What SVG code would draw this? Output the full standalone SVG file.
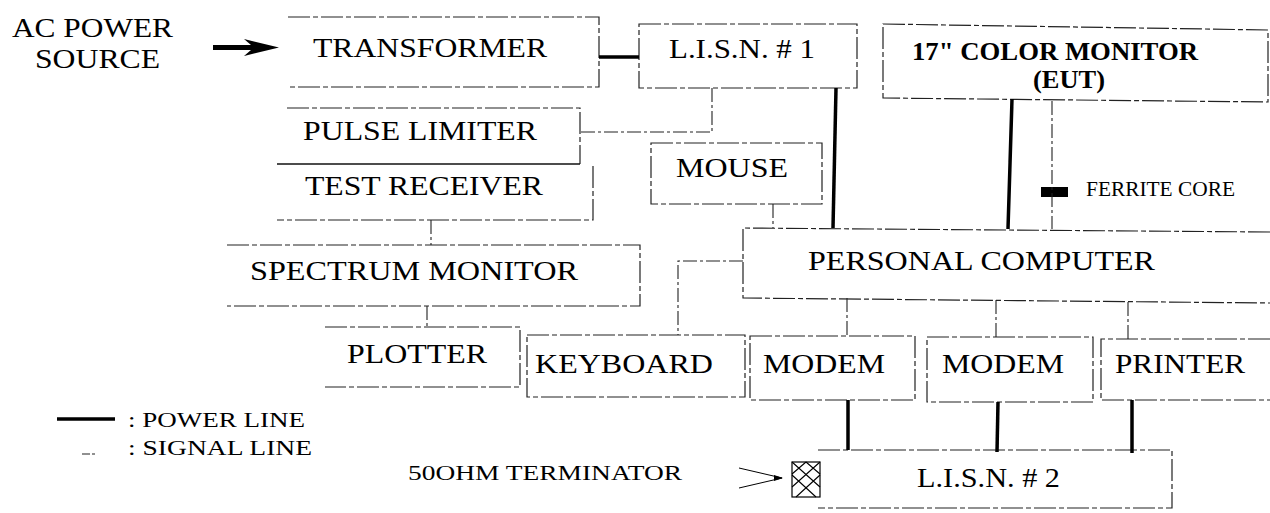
<svg xmlns="http://www.w3.org/2000/svg" width="1270" height="513" viewBox="0 0 1270 513">
<style>
.bx{fill:none;stroke:#222;stroke-width:1.2;stroke-dasharray:22 3 5 3}
.sg{fill:none;stroke:#222;stroke-width:1.1;stroke-dasharray:14 3 3 3}
.pw{fill:none;stroke:#000;stroke-width:3.5}
.t{font-family:"Liberation Serif","Times New Roman",serif;font-size:28px;fill:#000}
.tb{font-family:"Liberation Serif","Times New Roman",serif;font-size:25px;font-weight:bold;fill:#000}
.ts{font-family:"Liberation Serif","Times New Roman",serif;font-size:21px;fill:#000}
</style>
<rect width="1270" height="513" fill="#fff"/>

<g id="ac-source">
<text class="t" x="12" y="37" textLength="161" lengthAdjust="spacingAndGlyphs">AC POWER</text>
<text class="t" x="35" y="68" textLength="125" lengthAdjust="spacingAndGlyphs">SOURCE</text>
<path d="M213,45 L251,45 L244,39 L279,47.5 L244,56 L251,50 L213,50 Z" fill="#000"/>
</g>

<g id="transformer">
<path class="bx" d="M288,17 H599 V87 H288"/>
<text class="t" x="313" y="57" textLength="234" lengthAdjust="spacingAndGlyphs">TRANSFORMER</text>
</g>

<g id="lisn1">
<path class="bx" d="M639,24 H857 V88 H639 Z"/>
<text class="t" x="669" y="58" textLength="146" lengthAdjust="spacingAndGlyphs">L.I.S.N. # 1</text>
</g>

<g id="color-monitor">
<path class="bx" d="M883,24 L1268,30 V102 L883,98 Z"/>
<text class="tb" x="912" y="60" textLength="286" lengthAdjust="spacingAndGlyphs">17" COLOR MONITOR</text>
<text class="tb" x="1033" y="88" textLength="72" lengthAdjust="spacingAndGlyphs">(EUT)</text>
</g>

<g id="pulse-limiter">
<path class="bx" d="M287,108 H580 V164"/>
<path d="M277,164 H580" stroke="#111" stroke-width="1.4" fill="none"/>
<text class="t" x="303" y="140" textLength="234" lengthAdjust="spacingAndGlyphs">PULSE LIMITER</text>
</g>

<g id="test-receiver">
<path class="bx" d="M593,166 V220 H277"/>
<text class="t" x="305" y="195" textLength="238" lengthAdjust="spacingAndGlyphs">TEST RECEIVER</text>
</g>

<g id="mouse">
<path class="bx" d="M651,143 H822 V204 H651 Z"/>
<text class="t" x="676" y="177" textLength="112" lengthAdjust="spacingAndGlyphs">MOUSE</text>
</g>

<g id="ferrite-core">
<rect x="1041" y="187" width="27" height="10" fill="#000"/>
<text class="ts" x="1086" y="196" textLength="149" lengthAdjust="spacingAndGlyphs">FERRITE CORE</text>
</g>

<g id="spectrum-monitor">
<path class="bx" d="M227,245 H640 V306 H227"/>
<text class="t" x="250" y="280" textLength="328" lengthAdjust="spacingAndGlyphs">SPECTRUM MONITOR</text>
</g>

<g id="personal-computer">
<path class="bx" d="M1270,232 L743,228 V298 L1270,303"/>
<text class="t" x="808" y="270" textLength="347" lengthAdjust="spacingAndGlyphs">PERSONAL COMPUTER</text>
</g>

<g id="plotter">
<path class="bx" d="M325,327 H520 V387 H325"/>
<text class="t" x="347" y="363" textLength="140" lengthAdjust="spacingAndGlyphs">PLOTTER</text>
</g>

<g id="keyboard">
<path class="bx" d="M527,335 H745 V397 H527 Z"/>
<text class="t" x="535" y="373" textLength="178" lengthAdjust="spacingAndGlyphs">KEYBOARD</text>
</g>

<g id="modem1">
<path class="bx" d="M750,336 H915 V400 H750 Z"/>
<text class="t" x="763" y="373" textLength="122" lengthAdjust="spacingAndGlyphs">MODEM</text>
</g>

<g id="modem2">
<path class="bx" d="M927,337 H1093 V402 H927 Z"/>
<text class="t" x="942" y="373" textLength="122" lengthAdjust="spacingAndGlyphs">MODEM</text>
</g>

<g id="printer">
<path class="bx" d="M1270,339 H1101 V400 H1270"/>
<text class="t" x="1115" y="373" textLength="130" lengthAdjust="spacingAndGlyphs">PRINTER</text>
</g>

<g id="lisn2">
<path class="bx" d="M818,450 H1172 V508 H818" stroke-dasharray="10 12 4 8"/>
<text class="t" x="917" y="487" textLength="143" lengthAdjust="spacingAndGlyphs">L.I.S.N. # 2</text>
</g>

<g id="terminator">
<text class="ts" x="408" y="480" textLength="274" lengthAdjust="spacingAndGlyphs">50OHM TERMINATOR</text>
<path d="M739,468 L782,478 L739,488" fill="none" stroke="#000" stroke-width="1"/>
<path d="M774,475 L783,478 L774,481 Z" fill="#000"/>
<rect x="792" y="462" width="28" height="35" fill="none" stroke="#000" stroke-width="1.2"/>
<path d="M792,462 L820,487 M792,475 L816,497 M806,462 L820,474 M820,462 L792,487 M820,475 L796,497 M806,462 L792,474" stroke="#000" stroke-width="1.1" fill="none"/>
</g>

<g id="legend">
<line x1="57" y1="419" x2="115" y2="419" stroke="#000" stroke-width="3.5"/>
<text class="ts" x="128" y="427" textLength="177" lengthAdjust="spacingAndGlyphs">: POWER LINE</text>
<line x1="82" y1="454" x2="97" y2="454" stroke="#222" stroke-width="1.1" stroke-dasharray="8 2 3 2"/>
<text class="ts" x="128" y="455" textLength="184" lengthAdjust="spacingAndGlyphs">: SIGNAL LINE</text>
</g>

<g id="connectors">
<line class="pw" x1="599" y1="57" x2="639" y2="57"/>
<line class="pw" x1="836" y1="88" x2="833" y2="228"/>
<line class="pw" x1="1012" y1="99" x2="1008" y2="229"/>
<line class="pw" x1="848" y1="400" x2="848" y2="450"/>
<line class="pw" x1="998" y1="402" x2="997" y2="452"/>
<line class="pw" x1="1132" y1="400" x2="1132" y2="453"/>
<path class="sg" d="M712,88 V132 H580"/>
<path class="sg" d="M773,204 V228"/>
<path class="sg" d="M1052,101 V229"/>
<path class="sg" d="M743,261 H678 V335"/>
<path class="sg" d="M847,298 V336"/>
<path class="sg" d="M996,300 V337"/>
<path class="sg" d="M1128,302 V339"/>
<path class="sg" d="M431,220 V245"/>
<path class="sg" d="M427,306 V327"/>
</g>
</svg>
